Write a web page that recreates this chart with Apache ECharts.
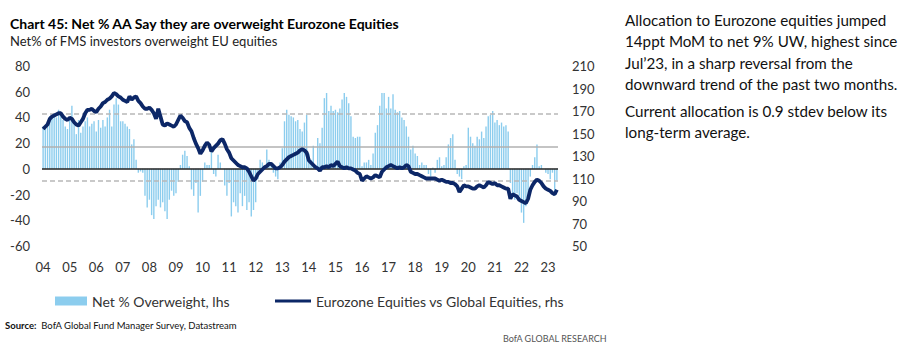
<!DOCTYPE html>
<html>
<head>
<meta charset="utf-8">
<script src="https://cdn.jsdelivr.net/npm/echarts@6/dist/echarts.min.js"></script>
<style>
  html, body { margin: 0; padding: 0; background: #fff; }
  #chart { width: 907px; height: 351px; }
</style>
</head>
<body>
<div id="chart"></div>
<script>
// monthly, Jan 2004 .. May 2023
var yearLabels = ['04','05','06','07','08','09','10','11','12','13','14','15','16','17','18','19','20','21','22','23'];

// Net % overweight Eurozone equities (lhs), one row per year
var netOverweight = [
  33, 31, 36, 41, 40, 43, 40, 46, 43, 38, 33, 31,
  40, 49, 37, 27, 38, 28, 33, 37, 40, 33, 35, 37,
  29, 38, 32, 38, 33, 40, 46, 33, 50, 55, 50, 37,
  37, 35, 33, 31, 19, 23, 7, -3, -2, -3, -21, -30,
  -24, -36, -39, -29, -24, -30, -26, -33, -39, -24, -17, -21,
  -19, -10, 3, 11, 14, 10, 2, -16, -21, -11, -34, -21,
  -10, 5, 3, 3, 14, -4, -6, 11, 5, 0, -13, -21,
  -11, -37, -26, -29, -34, -19, -29, -21, -32, -26, -37, -32,
  -26, -8, 7, 5, 1, 15, 7, 3, -3, -6, -8, 5,
  16, 37, 46, 42, 41, 40, 37, 38, 31, 29, 36, 42,
  12, 7, 18, 0, 24, 20, 32, 55, 59, 45, 49, 45,
  46, 44, 47, 54, 59, 56, 51, 41, 25, 24, 25, 25,
  2, 5, 5, 7, 3, 12, 28, 34, 49, 59, 59, 47,
  56, 47, 58, 46, 44, 45, 40, 38, 33, 25, 15, 18,
  12, 10, 3, 5, 3, 3, -4, -6, 1, -3, 7, 9,
  2, 3, 9, 19, 24, 27, 7, -4, -6, -8, 2, 3,
  32, 25, 20, 18, 25, 23, 29, 24, 33, 41, 42, 45,
  36, 38, 34, 36, 33, 34, 29, -11, -21, -24, -19, -21,
  -34, -42, -29, -21, -6, 3, 9, 19, 2, 3, 0, -3,
  -4, -8, -3, -21, -9
];

// Eurozone equities vs global equities (rhs)
var euroVsGlobal = [
  154, 156, 158, 163, 165, 166, 167, 168, 168, 165, 163, 162,
  164, 163, 160, 158, 157, 160, 163, 168, 171, 171, 172, 170,
  169, 172, 174, 177, 178, 180, 181, 183, 186, 185, 183, 182,
  180, 179, 178, 183, 180, 182, 183, 179, 177, 174, 172, 172,
  173, 171, 168, 163, 172, 165, 158, 157, 159, 158, 157, 156,
  158, 162, 166, 164, 161, 160, 155, 152, 146, 141, 137, 132,
  135, 139, 142, 140, 134, 137, 139, 141, 144, 145, 141, 136,
  133, 128, 126, 124, 122, 121, 120, 120, 119, 116, 112, 108,
  110, 114, 116, 118, 120, 121, 123, 123, 121, 119, 119, 120,
  122, 125, 127, 129, 130, 131, 132, 133, 135, 136, 135, 133,
  126, 124, 122, 120, 119, 117, 120, 120, 121, 120, 122, 121,
  123, 125, 121, 120, 119, 120, 119, 119, 118, 117, 115, 114,
  108, 110, 112, 111, 110, 111, 113, 112, 111, 116, 118, 120,
  121, 122, 121, 120, 119, 120, 119, 120, 122, 121, 116, 115,
  114, 114, 113, 112, 111, 110, 110, 110, 110, 110, 109, 108,
  109, 108, 107, 107, 106, 106, 105, 103, 98, 101, 104, 103,
  103, 102, 101, 101, 103, 104, 103, 102, 104, 107, 106, 105,
  106, 104, 104, 103, 102, 101, 101, 92, 96, 95, 94, 91,
  90, 89, 88, 92, 100, 104, 107, 109, 108, 106, 103, 101,
  100, 99, 97, 96, 100
];

// long-term average and +/- 1 stdev of the lhs series
var refLevels = [43, 17, -9];

var months = [];
for (var i = 0; i < netOverweight.length; i++) {
  months.push(i % 12 === 0 ? yearLabels[i / 12] : '');
}

var fnt = 'Lato, "Open Sans", sans-serif';
var chart = echarts.init(document.getElementById('chart'), null, { renderer: 'svg' });

chart.setOption({
  animation: false,
  title: [{
    text: 'Chart 45: Net % AA Say they are overweight Eurozone Equities',
    left: 5, top: 11,
    textStyle: { fontFamily: fnt, fontWeight: 'bold', fontSize: 14, color: '#000' }
  }, {
    text: 'Net% of FMS investors overweight EU equities',
    left: 5, top: 29,
    textStyle: { fontFamily: fnt, fontWeight: 'normal', fontSize: 13, color: '#222' }
  }],
  grid: { left: 42, right: 349, top: 66, bottom: 105 },
  legend: [{
    data: ['Net % Overweight, lhs'],
    left: 50, top: 289,
    icon: 'rect', itemWidth: 32, itemHeight: 9, itemGap: 4,
    textStyle: { fontFamily: fnt, fontSize: 14, color: '#333' }
  }, {
    data: ['Eurozone Equities vs Global Equities, rhs'],
    left: 270, top: 289,
    icon: 'rect', itemWidth: 36, itemHeight: 3, itemGap: 2,
    textStyle: { fontFamily: fnt, fontSize: 14, color: '#333' }
  }],
  xAxis: {
    type: 'category',
    data: months,
    axisLine: { show: false },
    axisTick: { show: false },
    axisLabel: {
      interval: function (idx) { return idx % 12 === 0; },
      margin: 14, fontFamily: fnt, fontSize: 13, color: '#333'
    }
  },
  yAxis: [{
    type: 'value', min: -60, max: 80, interval: 20,
    axisLine: { show: false }, axisTick: { show: false }, splitLine: { show: false },
    axisLabel: { margin: 12, fontFamily: fnt, fontSize: 13, color: '#333' }
  }, {
    type: 'value', min: 50, max: 210, interval: 20,
    axisLine: { show: false }, axisTick: { show: false }, splitLine: { show: false },
    axisLabel: { margin: 14, fontFamily: fnt, fontSize: 13, color: '#333' }
  }],
  series: [{
    name: 'Net % Overweight, lhs',
    type: 'bar',
    data: netOverweight,
    barWidth: 1.4,
    itemStyle: { color: '#8ccdee' },
    markLine: {
      silent: true, symbol: 'none', label: { show: false },
      data: [
        { yAxis: refLevels[0], lineStyle: { color: '#b8b8b8', type: [5, 3], width: 1.5 } },
        { yAxis: refLevels[1], lineStyle: { color: '#b0b0b0', type: 'solid', width: 1.5 } },
        { yAxis: refLevels[2], lineStyle: { color: '#b8b8b8', type: [5, 3], width: 1.5 } },
        { yAxis: 0, lineStyle: { color: '#222', type: 'solid', width: 1.5 } }
      ]
    }
  }, {
    name: 'Eurozone Equities vs Global Equities, rhs',
    type: 'line',
    yAxisIndex: 1,
    data: euroVsGlobal,
    symbol: 'none',
    z: 5,
    itemStyle: { color: '#0c2767' },
    lineStyle: { color: '#0c2767', width: 3.8 }
  }],
  graphic: [{
    type: 'text', left: 625, top: 9,
    style: {
      text: 'Allocation to Eurozone equities jumped\n14ppt MoM to net 9% UW, highest since\nJul\u201923, in a sharp reversal from the\ndownward trend of the past two months.',
      font: '15.2px ' + fnt, fill: '#111', lineHeight: 21.5
    }
  }, {
    type: 'text', left: 625, top: 100,
    style: {
      text: 'Current allocation is 0.9 stdev below its\nlong-term average.',
      font: '15.2px ' + fnt, fill: '#111', lineHeight: 21.5
    }
  }, {
    type: 'text', left: 5, top: 320,
    style: {
      text: '{b|Source:}  BofA Global Fund Manager Survey, Datastream',
      font: '9.5px ' + fnt, fill: '#111',
      rich: { b: { fontWeight: 'bold', fontSize: 9.5, fontFamily: fnt, fill: '#111' } }
    }
  }, {
    type: 'text', left: 503, top: 334,
    style: {
      text: 'BofA GLOBAL RESEARCH',
      font: '9px ' + fnt, fill: '#555'
    }
  }]
});
</script>
</body>
</html>
